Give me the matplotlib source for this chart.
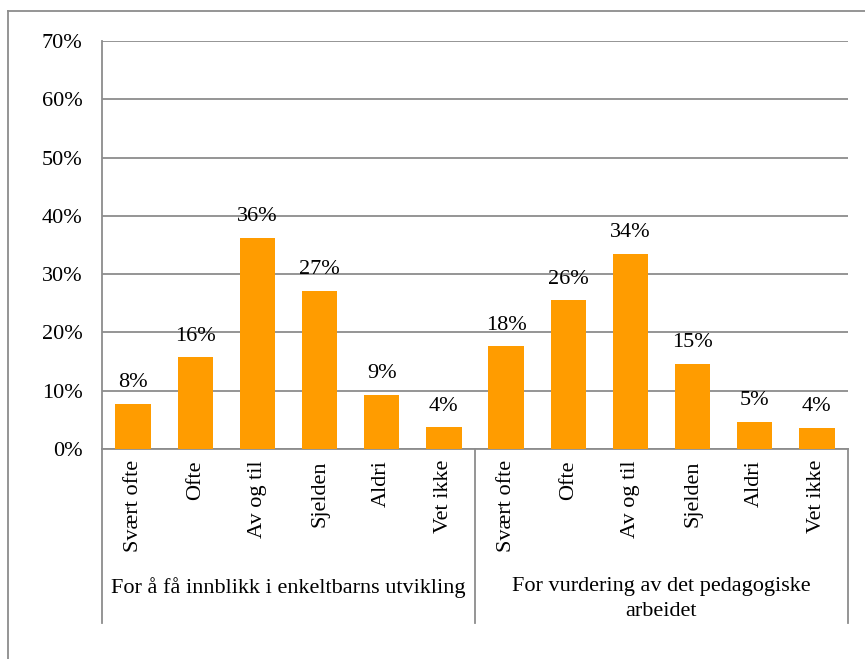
import numpy as np
import matplotlib.pyplot as plt
import matplotlib.transforms as mtransforms

plt.rcParams['font.family'] = ['Liberation Serif', 'DejaVu Serif']

# data
answers = ['Svært ofte', 'Ofte', 'Av og til', 'Sjelden', 'Aldri', 'Vet ikke']
groups = ['For å få innblikk i enkeltbarns utvikling',
          'For vurdering av det pedagogiske\narbeidet']
values_innblikk = [0.077, 0.157, 0.362, 0.271, 0.093, 0.037]
values_vurdering = [0.176, 0.255, 0.335, 0.146, 0.047, 0.036]
yticks = [0, 0.1, 0.2, 0.3, 0.4, 0.5, 0.6, 0.7]

values = values_innblikk + values_vurdering
labels = answers + answers
x = np.arange(len(values))

W, H = 865, 659
fig = plt.figure(figsize=(W / 100, H / 100), dpi=100)
ax = fig.add_axes([102 / W, 1 - 449 / H, 746 / W, 408 / H])

grey = '#8c8c8c'
fs = 16
bars = ax.bar(x, values, width=0.57, color='#ff9c00', zorder=3)
for b, v in zip(bars, values):
    ax.text(b.get_x() + b.get_width() / 2, v + 0.02, f'{v * 100:.0f}%',
            ha='center', va='bottom', fontsize=fs)

ax.set_xlim(-0.5, len(values) - 0.5)
ax.set_ylim(0, 0.7)
ax.set_yticks(yticks)
ax.set_yticklabels([f'{t * 100:.0f}%' for t in yticks], fontsize=fs)
ax.yaxis.grid(True, color=grey, linewidth=1.3, zorder=0)
ax.tick_params(axis='y', length=0, pad=14)
ax.set_xticks(x)
ax.set_xticklabels(labels, rotation=90, fontsize=fs, va='top')
ax.tick_params(axis='x', length=0, pad=8)
for s in ['top', 'right']:
    ax.spines[s].set_visible(False)
for s in ['left', 'bottom']:
    ax.spines[s].set_color(grey)
    ax.spines[s].set_linewidth(1.3)

# group separators and group names below the tick labels
trans = mtransforms.blended_transform_factory(ax.transData, ax.transAxes)
for xs in [-0.5, 5.5, 11.5]:
    ax.plot([xs, xs], [0, -174 / 408], color=grey, linewidth=1.3,
            transform=trans, clip_on=False)
for i, g in enumerate(groups):
    ax.text(2.5 + 6 * i, -128 / 408, g, transform=trans, ha='center',
            va='top', fontsize=fs, linespacing=1.4)

# outer chart border
fig.add_artist(plt.Line2D([8 / W, 1], [1 - 11 / H, 1 - 11 / H],
                          color=grey, linewidth=1.3))
fig.add_artist(plt.Line2D([8 / W, 8 / W], [0, 1 - 11 / H],
                          color=grey, linewidth=1.3))

fig.savefig('out.png', dpi=100)
